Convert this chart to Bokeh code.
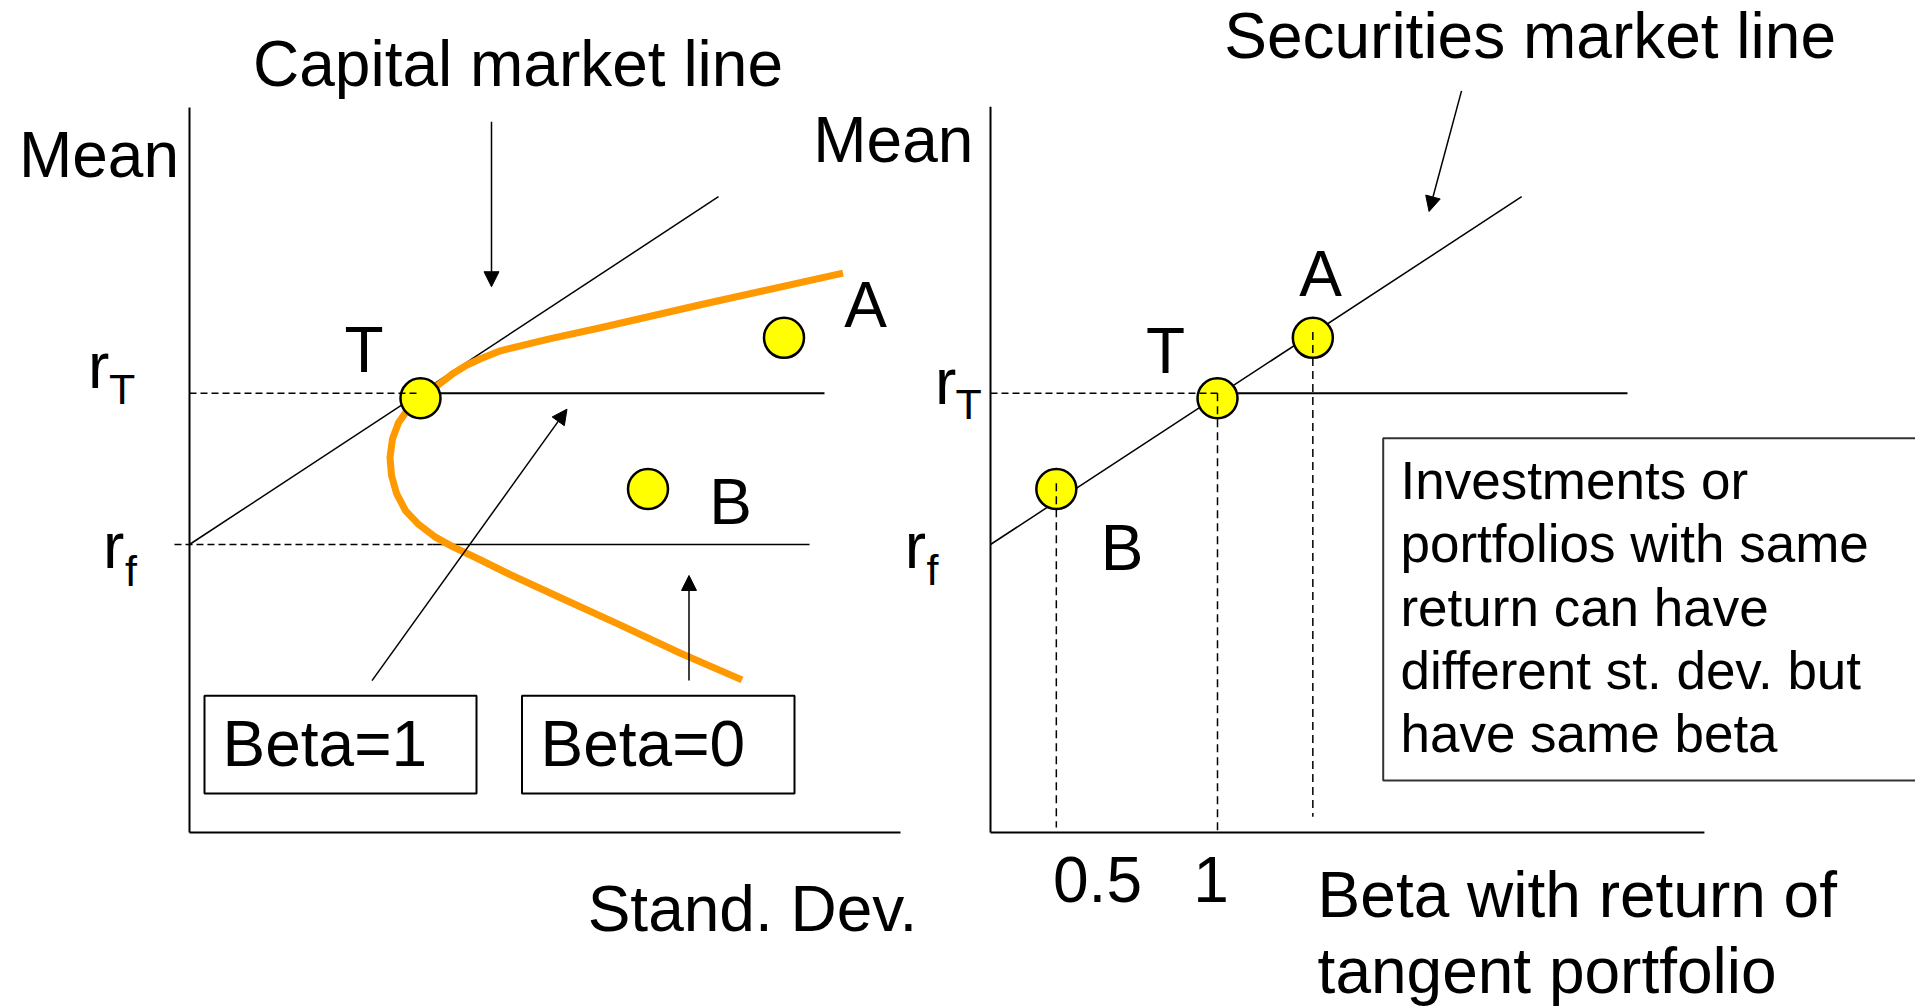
from bokeh.plotting import figure
from bokeh.models import Range1d, ColumnDataSource, Arrow, NormalHead
from bokeh.core.properties import value
from bokeh.embed import file_html
from bokeh.resources import INLINE

# ---------------- data ----------------
R_F = 4.00            # risk-free rate (mean units)
R_T = 6.10            # mean of the tangent portfolio

# hand-drawn mean/standard-deviation frontier (orange curve)
FRONTIER_SIGMA = [13.07, 10.22, 8.22, 7.22, 6.62, 6.22, 5.82, 5.54, 5.28, 4.98, 4.62,
                  4.38, 4.18, 4.06, 4.01, 4.04, 4.14, 4.32, 4.58, 4.90, 5.26, 5.72,
                  6.42, 7.42, 8.62, 9.82, 11.05]
FRONTIER_MEAN = [7.77, 7.33, 7.01, 6.86, 6.76, 6.69, 6.58, 6.49, 6.38, 6.22, 6.04,
                 5.89, 5.69, 5.47, 5.21, 4.96, 4.71, 4.47, 4.28, 4.11, 3.97, 3.82,
                 3.58, 3.26, 2.88, 2.49, 2.12]

# securities / portfolios
POINT_NAMES = ["T", "A", "B"]
POINT_SIGMA = [4.62, 11.89, 9.17]
POINT_MEAN = [6.03, 6.87, 4.77]
POINT_BETA = [1.00, 1.42, 0.29]
DROP_TOP = [6.10, 6.95, 4.85]
DROP_BOTTOM = [0.00, 0.22, 0.07]

# capital market line and securities market line
CML_SIGMA = [0.0, 10.58]
CML_MEAN = [R_F, 8.83]
SML_BETA = [0.0, 2.34]
SML_MEAN = [R_F, 8.83]

BETA_TICKS = [0.5, 1.0]
BETA_TICK_LABELS = ["0.5", "1"]

BOX_TEXT = ["Investments or", "portfolios with same", "return can have",
            "different st. dev. but", "have same beta"]
BETA_TITLE = ["Beta with return of", "tangent portfolio"]

# ---------------- layout ----------------
W, H = 1915, 1008
SIG0_PX, PX_PER_SIGMA = 189, 50      # px of sigma = 0
BETA0_PX, PX_PER_BETA = 990, 227     # px of beta = 0
MEAN0_PX, PX_PER_MEAN = 832, 72      # px (from top) of mean = 0

FONT = "Liberation Sans"
BIG, SUB, MID = 64, 43, 53
BASELINE_FIX = 0.375                 # em, lifts text so the baseline sits where intended

p = figure(width=W, height=H,
           x_range=Range1d(-SIG0_PX / PX_PER_SIGMA, (W - SIG0_PX) / PX_PER_SIGMA),
           y_range=Range1d((MEAN0_PX - H) / PX_PER_MEAN, MEAN0_PX / PX_PER_MEAN),
           output_backend="svg", toolbar_location=None, tools="",
           x_axis_type=None, y_axis_type=None, min_border=0)
p.extra_x_ranges = {"beta": Range1d(-BETA0_PX / PX_PER_BETA, (W - BETA0_PX) / PX_PER_BETA)}
p.outline_line_color = None
p.background_fill_color = "white"
p.border_fill_color = "white"


def txt(x, y, s, size, align="center", rng="default", **kw):
    xs = x if isinstance(x, list) else [x]
    ys = y if isinstance(y, list) else [y]
    lift = BASELINE_FIX * size / PX_PER_MEAN
    p.text(x=xs, y=[v + lift for v in ys], text=s if isinstance(s, list) else [s],
           text_font=value(FONT), text_font_size=value(f"{size}px"),
           text_align=align, text_baseline="alphabetic", text_color="black",
           x_range_name=rng, **kw)


DASH = "7 4"

# ======================= left panel: mean vs standard deviation =======================
p.line([0, 0], [0, 10.07], line_color="black", line_width=2)
p.line([0, 14.22], [0, 0], line_color="black", line_width=2)
# horizontal solid parts of r_T and r_f
p.line([POINT_SIGMA[0], 12.70], [R_T, R_T], line_color="black", line_width=2)
p.line([4.86, 12.40], [R_F, R_F], line_color="black", line_width=1.5)
# capital market line
p.line(CML_SIGMA, CML_MEAN, line_color="black", line_width=1.5)
# frontier
p.line(FRONTIER_SIGMA, FRONTIER_MEAN, line_color="#FF9900", line_width=7,
       line_join="round", line_cap="butt")
# points
p.scatter(POINT_SIGMA, POINT_MEAN, size=40, fill_color="#FFFF00",
          line_color="black", line_width=2.5)
# dashed references
p.line([0, 4.54], [R_T, R_T], line_color="black", line_width=1.5, line_dash=DASH)
p.line([-0.30, 4.86], [R_F, R_F], line_color="black", line_width=1.5, line_dash=DASH)

# boxes
p.quad(left=[0.30, 6.65], right=[5.74, 12.10], bottom=[0.54, 0.54], top=[1.90, 1.90],
       fill_color="white", line_color="black", line_width=2)
txt(0.66, 0.90, "Beta=1", BIG, "left")
txt(7.02, 0.90, "Beta=0", BIG, "left")

# labels
txt(6.57, 10.34, "Capital market line", BIG)
txt(-1.81, 9.08, "Mean", BIG)
txt(-2.03, 6.14, "r", BIG, "left")
txt(-1.61, 5.93, "T", SUB, "left")
txt(-1.73, 3.64, "r", BIG, "left")
txt(-1.29, 3.41, "f", SUB, "left")
txt([3.49, 13.52, 10.82], [6.375, 7.00, 4.26], POINT_NAMES, BIG)
txt(11.26, -1.39, "Stand. Dev.", BIG)

# arrows
head = dict(size=15, fill_color="black", line_color="black", line_width=1)
left_arrows = ColumnDataSource(dict(x0=[6.04, 3.65, 9.99], y0=[9.87, 2.11, 2.11],
                                    x1=[6.04, 7.55, 9.99], y1=[7.58, 5.88, 3.57]))
p.add_layout(Arrow(end=NormalHead(**head), x_start="x0", y_start="y0",
                   x_end="x1", y_end="y1", source=left_arrows,
                   line_color="black", line_width=1.5))

# ======================= right panel: mean vs beta =======================
B = "beta"
p.line([0, 0], [0, 10.08], line_color="black", line_width=2, x_range_name=B)
p.line([0, 3.145], [0, 0], line_color="black", line_width=2, x_range_name=B)
p.line([POINT_BETA[0], 2.806], [R_T, R_T], line_color="black", line_width=2, x_range_name=B)
p.line(SML_BETA, SML_MEAN, line_color="black", line_width=1.5, x_range_name=B)
p.scatter(POINT_BETA, POINT_MEAN, size=40, fill_color="#FFFF00",
          line_color="black", line_width=2.5, x_range_name=B)
p.line([0, POINT_BETA[0]], [R_T, R_T], line_color="black", line_width=1.5,
       line_dash=DASH, x_range_name=B)
p.segment(x0=POINT_BETA, y0=DROP_TOP, x1=POINT_BETA, y1=DROP_BOTTOM,
          line_color="black", line_width=1.5, line_dash="8 5", x_range_name=B)

# text box
p.quad(left=[1.730], right=[4.30], bottom=[0.722], top=[5.476],
       fill_color="white", line_color="#333333", line_width=2, x_range_name=B)
step = 63.33 / PX_PER_MEAN
txt([1.806] * len(BOX_TEXT), [4.611 - i * step for i in range(len(BOX_TEXT))],
    BOX_TEXT, MID, "left", B)

# labels
txt(2.377, 10.736, "Securities market line", BIG, rng=B)
txt(-0.428, 9.29, "Mean", BIG, rng=B)
txt(-0.245, 5.93, "r", BIG, "left", B)
txt(-0.154, 5.73, "T", SUB, "left", B)
txt(-0.378, 3.64, "r", BIG, "left", B)
txt(-0.282, 3.42, "f", SUB, "left", B)
txt([0.771, 1.454, 0.580], [6.36, 7.42, 3.625], POINT_NAMES, BIG, rng=B)
txt(BETA_TICKS, [-0.98] * len(BETA_TICKS), BETA_TICK_LABELS, BIG, rng=B, x_offset=-6.5)
txt([1.441, 1.441], [-1.208, -2.25], BETA_TITLE, BIG, "left", B)

right_arrow = ColumnDataSource(dict(x0=[2.075], y0=[10.30], x1=[1.932], y1=[8.625]))
p.add_layout(Arrow(end=NormalHead(**head), x_start="x0", y_start="y0",
                   x_end="x1", y_end="y1", source=right_arrow,
                   line_color="black", line_width=1.5, x_range_name=B))

open("out.html", "w").write(file_html(p, INLINE))
